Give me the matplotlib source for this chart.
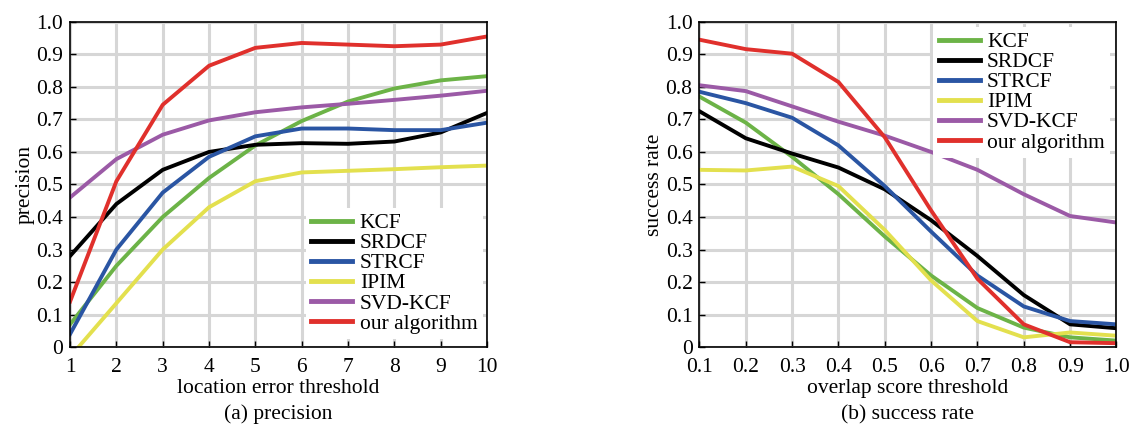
import matplotlib
matplotlib.use("Agg")
import matplotlib.pyplot as plt

plt.rcParams['font.family'] = ['Liberation Serif', 'DejaVu Serif']
plt.rcParams['mathtext.fontset'] = 'stix'

names = ["KCF", "SRDCF", "STRCF", "IPIM", "SVD-KCF", "our algorithm"]
colors = ["#6cb347", "#000000", "#2a55a3", "#e3e04e", "#9b5aa6", "#e0302c"]

x_prec = [1, 2, 3, 4, 5, 6, 7, 8, 9, 10]
prec_kcf = [0.07, 0.25, 0.40, 0.52, 0.62, 0.695, 0.755, 0.795, 0.82, 0.833]
prec_srdcf = [0.28, 0.44, 0.545, 0.60, 0.622, 0.627, 0.625, 0.632, 0.66, 0.72]
prec_strcf = [0.04, 0.30, 0.475, 0.585, 0.648, 0.672, 0.672, 0.667, 0.667, 0.69]
prec_ipim = [-0.03, 0.135, 0.30, 0.43, 0.51, 0.537, 0.542, 0.547, 0.553, 0.558]
prec_svd = [0.46, 0.578, 0.653, 0.697, 0.722, 0.737, 0.748, 0.76, 0.773, 0.788]
prec_ours = [0.14, 0.51, 0.745, 0.865, 0.92, 0.935, 0.93, 0.925, 0.93, 0.955]

x_succ = [0.1, 0.2, 0.3, 0.4, 0.5, 0.6, 0.7, 0.8, 0.9, 1.0]
succ_kcf = [0.77, 0.69, 0.585, 0.47, 0.34, 0.22, 0.12, 0.06, 0.03, 0.02]
succ_srdcf = [0.725, 0.642, 0.595, 0.552, 0.485, 0.39, 0.28, 0.16, 0.07, 0.058]
succ_strcf = [0.785, 0.75, 0.705, 0.62, 0.495, 0.355, 0.22, 0.125, 0.08, 0.07]
succ_ipim = [0.545, 0.543, 0.555, 0.495, 0.36, 0.205, 0.08, 0.03, 0.045, 0.035]
succ_svd = [0.805, 0.787, 0.74, 0.693, 0.65, 0.60, 0.545, 0.47, 0.403, 0.383]
succ_ours = [0.945, 0.916, 0.902, 0.815, 0.645, 0.42, 0.21, 0.07, 0.015, 0.012]

y_ticks = [0, 0.1, 0.2, 0.3, 0.4, 0.5, 0.6, 0.7, 0.8, 0.9, 1.0]
y_ticklabels = ["0", "0.1", "0.2", "0.3", "0.4", "0.5", "0.6", "0.7", "0.8", "0.9", "1.0"]
x_succ_labels = ["0.1", "0.2", "0.3", "0.4", "0.5", "0.6", "0.7", "0.8", "0.9", "1.0"]

fig = plt.figure(figsize=(11.3, 4.28), dpi=100)
ax1 = fig.add_axes([0.062, 0.189, 0.369, 0.760])
ax2 = fig.add_axes([0.619, 0.189, 0.369, 0.760])

FS = 15.5

def style(ax):
    ax.grid(True, color="#d6d6d6", linewidth=2.2)
    ax.set_axisbelow(True)
    ax.tick_params(direction="in", labelsize=FS, length=4, width=1, pad=5)
    ax.tick_params(axis="x", pad=8)
    for s in ax.spines.values():
        s.set_linewidth(1.2)
    ax.set_ylim(0, 1.0)
    ax.set_yticks(y_ticks)
    ax.set_yticklabels(y_ticklabels)

def legend(ax, **kw):
    leg = ax.legend(frameon=True, fontsize=FS, handlelength=1.9, handletextpad=0.35,
                    labelspacing=0.0, borderpad=0.25, borderaxespad=0.0, **kw)
    leg.get_frame().set_edgecolor("none")
    leg.get_frame().set_facecolor("white")
    leg.get_frame().set_alpha(1)
    for h in leg.get_lines():
        h.set_linewidth(3.5)
    return leg

lw = 2.8
for vals, c, n in zip([prec_kcf, prec_srdcf, prec_strcf, prec_ipim, prec_svd, prec_ours], colors, names):
    ax1.plot(x_prec, vals, color=c, lw=lw, label=n)
style(ax1)
ax1.set_xlim(1, 10)
ax1.set_xticks(x_prec)
ax1.set_xlabel("location error threshold", fontsize=FS, labelpad=1)
ax1.set_ylabel("precision", fontsize=FS, labelpad=1)
legend(ax1, loc="lower right", bbox_to_anchor=(0.99, 0.025))

for vals, c, n in zip([succ_kcf, succ_srdcf, succ_strcf, succ_ipim, succ_svd, succ_ours], colors, names):
    ax2.plot(x_succ, vals, color=c, lw=lw, label=n)
style(ax2)
ax2.set_xlim(0.1, 1.0)
ax2.set_xticks(x_succ)
ax2.set_xticklabels(x_succ_labels)
ax2.set_xlabel("overlap score threshold", fontsize=FS, labelpad=1)
ax2.set_ylabel("success rate", fontsize=FS, labelpad=1)
legend(ax2, loc="upper right", bbox_to_anchor=(0.985, 0.985))

fig.text(0.062 + 0.369 / 2, 0.02, "(a) precision", ha="center", fontsize=FS)
fig.text(0.619 + 0.369 / 2, 0.02, "(b) success rate", ha="center", fontsize=FS)

fig.savefig("out.png", dpi=100)
